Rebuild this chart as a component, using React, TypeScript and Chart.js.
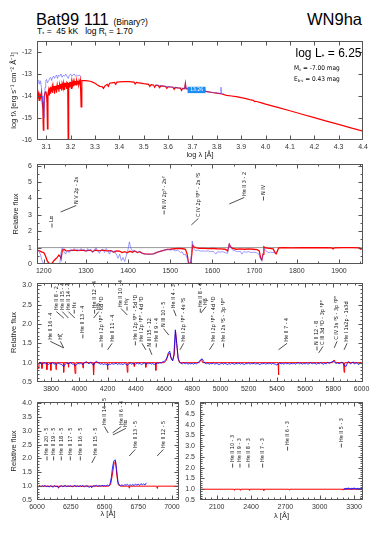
import React, { useEffect, useRef } from "react";
import { Chart, registerables } from "chart.js";

Chart.register(...registerables);

const SANS = '"Liberation Sans", Arial, Helvetica, sans-serif';
const NARROW = '"Liberation Sans Narrow", "DejaVu Sans Condensed", "Liberation Sans", sans-serif';
Chart.defaults.font.family = SANS;

// ------------------------------------------------------------------ data
// Panel 1: SED (log lambda vs log f_lambda)
const sedTicksX = [3.1, 3.2, 3.3, 3.4, 3.5, 3.6, 3.7, 3.8, 3.9, 4.0, 4.1, 4.2, 4.3, 4.4];
const sedTicksY = [-12, -13, -14, -15, -16];
const sedModel: [number, number][] = [
  [3.062, -13.95], [3.065, -14.12], [3.068, -13.9], [3.071, -14.2], [3.074, -13.95], [3.077, -14.05],
  [3.08, -13.85], [3.083, -14.25], [3.086, -14.6], [3.088, -15.55], [3.09, -14.9], [3.092, -14.0],
  [3.095, -13.85], [3.098, -13.78], [3.101, -13.95], [3.103, -14.3], [3.105, -15.5], [3.107, -13.9],
  [3.11, -13.72], [3.112, -13.95], [3.113, -13.7], [3.116, -13.64], [3.118, -13.9], [3.12, -13.6],
  [3.122, -13.8], [3.124, -13.62], [3.126, -13.85], [3.128, -13.57], [3.13, -13.75], [3.132, -13.55],
  [3.134, -13.9], [3.136, -13.55], [3.138, -13.75], [3.14, -13.52], [3.142, -13.85], [3.145, -13.5],
  [3.148, -13.7], [3.15, -13.5], [3.152, -13.8], [3.155, -13.47], [3.158, -13.65], [3.16, -13.45],
  [3.163, -13.75], [3.165, -13.45], [3.168, -13.6], [3.17, -13.42], [3.173, -13.7], [3.175, -13.4],
  [3.178, -13.58], [3.18, -13.4], [3.183, -13.65], [3.185, -13.38], [3.188, -13.42], [3.19, -16.2],
  [3.192, -13.4], [3.194, -13.6], [3.196, -13.36], [3.198, -13.55], [3.2, -13.36], [3.203, -13.65],
  [3.205, -13.34], [3.208, -13.5], [3.21, -13.33], [3.213, -13.55], [3.215, -13.33], [3.218, -13.48],
  [3.22, -13.32], [3.223, -13.5], [3.225, -13.31], [3.228, -13.45], [3.23, -13.31], [3.233, -13.5],
  [3.235, -13.3], [3.238, -13.42], [3.24, -13.3], [3.243, -14.5], [3.246, -13.3], [3.25, -13.3],
  [3.26, -13.3], [3.27, -13.31], [3.28, -13.33], [3.29, -13.37], [3.3, -13.42], [3.31, -13.5],
  [3.32, -13.56], [3.33, -13.58], [3.335, -13.65], [3.34, -13.55], [3.35, -13.47], [3.355, -13.56],
  [3.36, -13.42], [3.37, -13.4], [3.38, -13.38], [3.385, -13.47], [3.39, -13.37], [3.4, -13.36],
  [3.42, -13.35], [3.44, -13.35], [3.46, -13.37], [3.465, -13.45], [3.47, -13.38], [3.48, -13.4],
  [3.5, -13.44], [3.52, -13.47], [3.525, -13.56], [3.53, -13.48], [3.54, -13.5], [3.545, -13.6],
  [3.55, -13.51], [3.56, -13.53], [3.565, -13.62], [3.57, -13.54], [3.58, -13.55], [3.59, -13.57],
  [3.595, -13.66], [3.6, -13.58], [3.62, -13.6], [3.625, -13.7], [3.63, -13.61], [3.64, -13.63],
  [3.65, -13.64], [3.655, -13.75], [3.66, -13.65], [3.668, -13.66], [3.671, -13.42], [3.674, -13.67],
  [3.68, -13.68], [3.7, -13.71], [3.72, -13.74], [3.735, -13.78], [3.74, -13.76], [3.76, -13.8],
  [3.78, -13.84], [3.8, -13.87], [3.82, -13.91], [3.84, -13.97], [3.86, -14.0], [3.88, -14.03],
  [3.9, -14.07], [3.92, -14.12], [3.94, -14.18], [3.95, -14.2], [3.955, -14.25], [3.96, -14.24],
  [3.98, -14.3], [4.0, -14.37], [4.05, -14.52], [4.1, -14.67], [4.15, -14.83], [4.2, -14.98],
  [4.25, -15.14], [4.3, -15.29], [4.35, -15.45], [4.4, -15.6],
];
const sedObs: [number, number | null][] = [
  [3.065, -13.3], [3.068, -13.3], [3.071, -13.45], [3.074, -13.3], [3.077, -13.35], [3.08, -13.6],
  [3.083, -14.0], [3.086, -14.3], [3.088, -14.8], [3.09, -15.0], [3.092, -14.6], [3.095, -13.6],
  [3.098, -13.3], [3.101, -13.25], [3.105, -13.4], [3.11, -13.3], [3.114, -13.2], [3.118, -13.15],
  [3.122, -13.3], [3.126, -13.15], [3.13, -13.1], [3.134, -13.2], [3.138, -13.1], [3.142, -13.05],
  [3.146, -13.2], [3.15, -13.05], [3.155, -13.1], [3.16, -13.0], [3.165, -13.15], [3.17, -13.05],
  [3.175, -13.1], [3.18, -13.0], [3.185, -13.1], [3.19, -13.2], [3.195, -13.05], [3.2, -13.0],
  [3.205, -13.1], [3.21, -13.05], [3.215, -13.0], [3.22, -13.1], [3.225, -13.05], [3.23, -13.1],
  [3.235, -13.05], [3.24, -13.1], [3.245, -13.15], [3.3, null],
  [3.55, -13.5], [3.58, -13.55], [3.6, -13.57], [3.63, -13.62], [3.65, -13.64], [3.668, -13.66],
  [3.671, -13.45], [3.674, -13.67], [3.7, -13.71], [3.73, -13.75], [3.76, -13.8], [3.79, -13.85],
  [3.815, -13.88], [3.817, -13.6], [3.819, -13.88], [3.83, -13.91],
];
const sedPhotometry = [{ x0: 3.68, x1: 3.754, y0: -13.58, y1: -13.87, text: "13.26" }];

// Panel 2: UV relative flux
const uvTicksX = [1200, 1300, 1400, 1500, 1600, 1700, 1800, 1900];
const uvTicksY = [0, 1, 2, 3, 4, 5, 6];
const uvModel: [number, number][] = [
  [1184, 0.85], [1190, 0.8], [1196, 0.72], [1200, 0.7], [1204, 0.5], [1208, 0.2], [1212, 0.05],
  [1216, 0.0], [1220, 0.05], [1224, 0.2], [1228, 0.3], [1232, 0.4], [1236, 0.55], [1239, 0.45],
  [1241, 0.3], [1244, 0.85], [1248, 0.9], [1252, 0.82], [1260, 0.8], [1270, 0.85], [1280, 0.82],
  [1290, 0.85], [1300, 0.8], [1310, 0.85], [1316, 0.75], [1322, 0.85], [1330, 0.8], [1340, 0.85],
  [1350, 0.8], [1360, 0.82], [1366, 0.72], [1372, 0.8], [1380, 0.78], [1386, 0.7], [1392, 0.75],
  [1398, 0.68], [1404, 0.78], [1410, 0.72], [1416, 0.8], [1422, 0.7], [1428, 0.75], [1434, 0.65],
  [1440, 0.62], [1450, 0.6], [1460, 0.62], [1470, 0.72], [1480, 0.8], [1490, 0.88], [1500, 0.9],
  [1510, 0.93], [1520, 0.95], [1530, 0.93], [1536, 0.9], [1540, 0.6], [1543, 0.1], [1546, 0.0],
  [1549, 0.1], [1551, 0.6], [1553, 1.15], [1556, 1.05], [1562, 0.98], [1570, 0.95], [1580, 0.95],
  [1590, 0.94], [1600, 0.95], [1610, 0.93], [1620, 0.92], [1630, 0.9], [1636, 0.8], [1640, 1.2],
  [1643, 1.05], [1648, 0.95], [1656, 0.9], [1666, 0.92], [1676, 0.9], [1686, 0.92], [1696, 0.9],
  [1706, 0.88], [1711, 0.8], [1714, 0.4], [1717, 0.25], [1720, 0.6], [1722, 1.05], [1726, 0.98],
  [1735, 0.95], [1744, 0.92], [1748, 0.7], [1751, 0.62], [1754, 0.8], [1757, 0.98], [1770, 1.0],
  [1790, 0.98], [1810, 1.0], [1830, 0.99], [1850, 1.0], [1870, 0.99], [1883, 0.98], [1886, 0.92],
  [1889, 0.99], [1910, 1.0], [1930, 1.0], [1948, 0.99], [1951, 0.9], [1956, 0.95],
];
const uvObs: [number, number][] = [
  [1184, 0.85], [1188, 0.8], [1192, 0.6], [1196, 0.2], [1200, 0.0], [1210, 0.0], [1220, 0.0],
  [1230, 0.0], [1238, 0.0], [1241, 0.7], [1244, 1.0], [1248, 0.75], [1252, 0.6], [1256, 0.85],
  [1260, 0.7], [1264, 0.9], [1268, 0.8], [1272, 0.95], [1276, 0.85], [1280, 0.9], [1284, 0.8],
  [1288, 0.95], [1292, 0.85], [1296, 0.9], [1300, 0.75], [1304, 0.95], [1308, 0.8], [1312, 0.9],
  [1316, 0.7], [1320, 0.85], [1324, 1.0], [1328, 0.8], [1332, 0.65], [1336, 0.85], [1340, 0.9],
  [1344, 0.7], [1348, 0.95], [1352, 0.8], [1356, 0.6], [1360, 0.85], [1364, 0.7], [1368, 0.8],
  [1372, 0.6], [1376, 0.35], [1380, 0.6], [1384, 0.2], [1388, 0.4], [1392, 0.15], [1396, 0.55],
  [1400, 0.9], [1403, 1.35], [1406, 1.0], [1410, 0.8], [1414, 0.85], [1418, 0.75], [1422, 0.7],
  [1426, 0.8], [1430, 0.7], [1434, 0.65], [1440, 0.6], [1446, 0.6], [1452, 0.58], [1458, 0.6],
  [1464, 0.65], [1470, 0.72], [1476, 0.78], [1482, 0.82], [1488, 0.85], [1494, 0.9], [1500, 0.85],
  [1506, 0.88], [1512, 0.8], [1518, 0.85], [1524, 0.7], [1528, 0.75], [1532, 0.55], [1536, 0.6],
  [1540, 0.35], [1544, 0.1], [1547, 0.0], [1550, 0.5], [1552, 1.4], [1555, 1.0], [1560, 0.8],
  [1566, 0.85], [1572, 0.78], [1578, 0.8], [1584, 0.78], [1590, 0.8], [1596, 0.75], [1602, 0.78],
  [1608, 0.6], [1612, 0.75], [1618, 0.72], [1624, 0.75], [1630, 0.7], [1636, 0.65], [1640, 1.25],
  [1643, 1.0], [1648, 0.85], [1654, 0.8], [1660, 0.75], [1666, 0.78], [1670, 0.6], [1674, 0.75],
  [1680, 0.72], [1686, 0.75], [1692, 0.7], [1698, 0.72], [1704, 0.7], [1710, 0.6], [1714, 0.3],
  [1717, 0.2], [1720, 0.6], [1723, 0.95], [1727, 0.8], [1732, 0.7], [1738, 0.72], [1744, 0.7],
  [1750, 0.7],
];
const uvIdWave = [1216, 1240, 1486, 1550, 1640, 1718];
const uvIdText = ["Lα", "N V 2p - 2s", "N IV 2p³ - 2s²", "C IV 2p ²P° - 2s ²S", "He II 3 - 2", "N IV"];

// Panel 3: optical relative flux
const optTicksX = [3800, 4000, 4200, 4400, 4600, 4800, 5000, 5200, 5400, 5600, 5800, 6000];
const optTicksY = [0.5, 1.0, 1.5, 2.0, 2.5, 3.0];
const optModel: [number, number][] = [
  [3700, 1.0], [3710, 0.85], [3714, 1.0], [3733, 1.0], [3735, 0.85], [3737, 1.0], [3768, 1.0],
  [3770, 0.82], [3772, 1.0], [3796, 1.0], [3798, 0.8], [3800, 1.0], [3833, 1.0], [3835, 0.82],
  [3837, 1.0], [3886, 1.0], [3889, 0.75], [3892, 1.0], [3920, 1.0], [3923, 0.88], [3926, 1.0],
  [3965, 1.0], [3970, 0.72], [3975, 1.0], [4023, 1.0], [4026, 0.86], [4029, 1.0], [4097, 1.0],
  [4101, 0.68], [4105, 1.0], [4197, 1.0], [4200, 0.82], [4203, 1.0], [4336, 1.0], [4340, 0.75],
  [4344, 1.0], [4385, 1.0], [4388, 0.9], [4391, 1.0], [4468, 1.0], [4471, 0.88], [4474, 1.0],
  [4539, 1.0], [4542, 0.8], [4545, 1.0], [4600, 1.0], [4615, 1.05], [4630, 1.2], [4640, 1.25],
  [4652, 1.1], [4662, 1.05], [4672, 1.2], [4682, 1.8], [4690, 1.5], [4700, 1.1], [4710, 1.0],
  [4850, 1.0], [4858, 1.05], [4866, 1.08], [4874, 1.0], [5408, 1.0], [5411, 0.68], [5414, 1.0],
  [5795, 1.0], [5806, 1.07], [5815, 1.0], [5872, 1.0], [5876, 0.75], [5880, 1.0], [6010, 1.0],
];
const optObsStart = 3700;
const optObsStep = 10;
const optObsFlux = [
  1.0, 0.97, 1.01, 0.98, 0.96, 1.0, 0.97, 0.99, 0.95, 0.98,
  0.97, 1.0, 0.96, 0.98, 0.95, 0.99, 0.97, 0.96, 0.93, 0.9,
  0.96, 0.99, 0.97, 0.98, 1.0, 0.96, 0.97, 0.92, 0.95, 0.98,
  0.97, 0.99, 0.95, 0.98, 1.0, 1.03, 0.99, 0.97, 1.01, 0.98,
  0.93, 0.99, 1.04, 1.01, 0.98, 0.96, 0.98, 0.95, 0.97, 0.96,
  0.92, 0.97, 0.95, 0.98, 0.96, 0.97, 0.99, 0.95, 0.98, 0.96,
  0.97, 0.95, 0.98, 0.96, 0.93, 0.97, 0.99, 0.96, 0.98, 0.97,
  0.96, 0.99, 0.97, 0.98, 0.95, 0.97, 1.0, 0.96, 0.98, 0.97,
  0.99, 0.96, 0.98, 0.95, 0.97, 0.99, 0.98, 1.0, 0.99, 1.02,
  1.03, 1.06, 1.12, 1.25, 1.3, 1.12, 1.05, 1.2, 1.85, 1.5,
  1.12, 1.02, 0.98, 0.97, 1.0, 0.97, 0.99, 0.96, 0.98, 0.97,
  0.98, 0.96, 0.99, 0.97, 1.0, 1.03, 1.08, 1.1, 1.04, 0.99,
  0.97, 0.99, 0.96, 0.98, 0.97, 0.99, 0.96, 0.98, 0.97, 0.95,
  0.97, 0.99, 0.96, 0.98, 0.97, 0.95, 0.98, 0.96, 0.99, 0.97,
  0.96, 0.98, 0.97, 0.99, 0.96, 0.98, 0.97, 0.95, 0.98, 0.97,
  0.99, 0.96, 0.98, 0.97, 0.99, 0.96, 0.98, 0.97, 0.95, 0.98,
  0.97, 0.99, 0.96, 0.98, 0.97, 0.99, 0.96, 0.98, 0.97, 0.96,
  0.94, 0.97, 0.99, 0.97, 0.98, 0.96, 0.99, 0.97, 0.98, 0.96,
  0.98, 0.97, 0.99, 0.96, 0.98, 1.0, 0.97, 0.99, 0.96, 0.98,
  0.97, 0.99, 0.96, 0.98, 1.0, 0.97, 0.99, 0.98, 0.96, 0.99,
  0.97, 1.0, 0.98, 0.96, 0.99, 0.97, 1.01, 0.98, 1.0, 1.02,
  1.04, 1.01, 0.98, 1.0, 0.97, 0.99, 1.01, 0.98, 0.92, 0.9,
  1.0, 1.03, 0.97, 0.99, 1.02, 0.96, 1.0, 0.98, 0.95, 0.99,
  0.97, 1.01,
];
const optIdWave = [3888, 3889, 3890, 3923, 3968, 3970, 4026, 4100, 4101, 4144, 4200, 4340, 4341, 4388, 4471,
  4514, 4542, 4634, 4686, 4713, 4859, 4861, 4922, 5016, 5411, 5680, 5696, 5806, 5876];
const optIdText = ["He II 16 - 4", "Hζ", "He II 8 - 2", "He II 15 - 4", "He II 14 - 4", "Hε", "He II 13 - 4",
  "He II 12 - 4", "Hδ", "He I 2p ¹P° - 6d ¹D", "He II 11 - 4", "He II 10 - 4", "Hγ", "He I 2p ¹P° - 5d ¹D",
  "He I 2p ³P° - 4d ³D", "N III 15 - 12", "He II 9 - 4", "N III 10 - 5", "He II 4 - 3", "He I 2p ³P° - 4s ³S",
  "He II 8 - 4", "Hβ", "He I 2p ¹P° - 4d ¹D", "He I 2s ¹S - 3p ¹P°", "He II 7 - 4", "N II 12 - 8",
  "C III 3d ¹D - 3p ¹P°", "C IV 3s ²S - 3p ²P°", "He I 1s2p - 1s3d"];

// Panel 4: red optical
const redTicksX = [6000, 6250, 6500, 6750, 7000];
const redTicksY = [0.5, 1.0, 1.5, 2.0, 2.5, 3.0, 3.5, 4.0];
const redModel: [number, number][] = [
  [6000, 1.0], [6155, 1.0], [6158, 0.93], [6161, 1.0], [6400, 1.0], [6405, 0.94], [6408, 1.0],
  [6530, 1.0], [6545, 1.05], [6558, 1.4], [6572, 1.85], [6582, 1.9], [6592, 1.35], [6602, 1.05],
  [6620, 1.0], [6680, 1.0], [6683, 0.93], [6686, 1.0], [6887, 1.0], [6890, 0.92], [6893, 1.0], [7050, 1.0],
];
const redObsStart = 6000;
const redObsStep = 10;
const redObsFlux = [
  1.0, 0.98, 1.02, 0.97, 1.01, 0.99, 1.03, 0.98, 1.0, 0.97,
  1.01, 0.99, 0.96, 1.02, 0.98, 1.0, 0.95, 0.99, 1.02, 0.98,
  1.0, 1.03, 0.98, 1.01, 0.99, 1.02, 0.97, 1.0, 1.03, 0.99,
  1.01, 0.98, 1.02, 0.99, 1.03, 0.97, 1.0, 1.02, 0.98, 0.96,
  1.01, 0.98, 1.02, 1.0, 1.04, 0.99, 1.02, 1.0, 1.03, 1.01,
  1.02, 1.0, 1.04, 1.02, 1.06, 1.3, 1.7, 1.92, 1.95, 1.6,
  1.15, 1.04, 1.02, 1.05, 1.01, 1.06, 1.03, 1.07, 1.02, 1.05,
  1.03, 1.06, 1.02, 1.08, 1.04, 1.07, 1.03, 1.09, 1.05, 1.08,
  1.04, 1.12,
];
const redIdWave = [6074, 6120, 6172, 6234, 6310, 6406, 6527, 6560, 6563, 6683, 6890];
const redIdText = ["He II 20 - 5", "He II 19 - 5", "He II 18 - 5", "He II 17 - 5", "He II 16 - 5", "He II 15 - 5",
  "He II 14 - 5", "He II 6 - 4", "Hα", "He II 13 - 5", "He II 12 - 5"];

// Panel 5: near UV
const nuvTicksX = [2100, 2400, 2700, 3000, 3300];
const nuvTicksY = [0.5, 1.0, 1.5, 2.0, 2.5, 3.0, 3.5, 4.0, 4.5, 5.0];
const nuvModel: [number, number][] = [
  [1950, 1.0], [2250, 1.0], [2253, 0.95], [2256, 1.0], [2303, 1.0], [2306, 0.95], [2309, 1.0],
  [2383, 1.0], [2386, 0.94], [2389, 1.0], [2509, 1.0], [2512, 0.94], [2515, 1.0], [2730, 1.0],
  [2734, 0.96], [2738, 1.0], [3200, 1.0], [3203, 0.96], [3206, 1.0], [3380, 1.0],
];
const nuvObsStart = 3210;
const nuvObsStep = 10;
const nuvObsFlux = [1.03, 1.01, 1.04, 1.02, 1.05, 1.03, 1.01, 1.04, 1.02, 1.05, 1.03, 1.02, 1.04, 1.01, 1.03, 1.02, 1.04, 1.03];
const nuvIdWave = [2253, 2306, 2386, 2512, 2734, 3203];
const nuvIdText = ["He II 10 - 3", "He II 9 - 3", "He II 8 - 3", "He II 7 - 3", "He II 6 - 3", "He II 5 - 3"];

// ------------------------------------------------------------------ label layout (anchor of text, data coords)
const uvIdAnchor = [[1219.5, 2.56], [1277, 3.66], [1485.5, 3.36], [1566.7, 2.87], [1675.6, 4.15], [1721, 4.21]];
const optIdAnchor = [[3794, 1.59], [3865, 1.59], [3837, 2.36], [3879, 2.36], [3922, 2.36], [3964, 2.41],
  [4025, 1.77], [4108, 2.41], [4138, 2.36], [4161, 1.54], [4232, 1.54], [4295, 2.44], [4338, 2.49],
  [4397, 1.59], [4444, 1.54], [4496, 1.41], [4545, 1.54], [4597, 1.92], [4668, 2.41], [4739, 1.54],
  [4857, 2.44], [4898, 2.49], [4952, 1.54], [5022, 1.54], [5472, 1.54], [5684, 1.46], [5727, 1.46],
  [5826, 1.59], [5897, 1.54]];
const redIdAnchor = [[6074, 2.13], [6123, 2.13], [6180, 2.13], [6247, 2.13], [6321, 2.13], [6432, 2.13],
  [6499, 3.21], [6624, 3.21], [6658, 3.14], [6728, 2.38], [6936, 2.38]];
const nuvIdAnchor = [[2239, 2.26], [2303, 2.26], [2381, 2.26], [2501, 2.26], [2719, 3.05], [3189, 3.19]];

// ------------------------------------------------------------------ helpers
const pts = (arr: [number, number | null][]) => arr.map(([x, y]) => ({ x, y }));
const grid = (start: number, step: number, vals: number[]) => vals.map((y, i) => ({ x: start + i * step, y }));
const ids = (w: number[], t: string[], a: number[][]) => w.map((wv, i) => ({ w: wv, t: t[i], tx: a[i][0], ty: a[i][1] }));

function minorRange(min: number, max: number, step: number) {
  const out: number[] = [];
  if (!step) return out;
  const start = Math.ceil(min / step - 1e-9) * step;
  for (let v = start; v <= max + 1e-9; v += step) out.push(v);
  return out;
}

const framePlugin = {
  id: "frame",
  afterDatasetsDraw(chart: any, _a: any, o: any) {
    const { ctx, chartArea: a, scales } = chart;
    const sx = scales.x, sy = scales.y;
    ctx.save();
    ctx.strokeStyle = "#555";
    ctx.lineWidth = 1;
    const L = Math.round(a.left) + 0.5, R = Math.round(a.right) - 0.5;
    const T = Math.round(a.top) + 0.5, B = Math.round(a.bottom) - 0.5;
    ctx.strokeRect(L, T, R - L, B - T);
    ctx.beginPath();
    const xt = (vals: number[], len: number) => vals.forEach((v) => {
      const p = Math.round(sx.getPixelForValue(v)) + 0.5;
      if (p < L + 1 || p > R - 1) return;
      ctx.moveTo(p, B); ctx.lineTo(p, B - len);
      ctx.moveTo(p, T); ctx.lineTo(p, T + len);
    });
    const yt = (vals: number[], len: number) => vals.forEach((v) => {
      const p = Math.round(sy.getPixelForValue(v)) + 0.5;
      if (p < T + 1 || p > B - 1) return;
      ctx.moveTo(L, p); ctx.lineTo(L + len, p);
      ctx.moveTo(R, p); ctx.lineTo(R - len, p);
    });
    xt(o.xMajor, 4);
    yt(o.yMajor, 4);
    xt(minorRange(sx.min, sx.max, o.xMinor), 2);
    yt(minorRange(sy.min, sy.max, o.yMinor), 2);
    ctx.stroke();
    ctx.restore();
  },
};

const idPlugin = {
  id: "lineIds",
  afterDatasetsDraw(chart: any, _a: any, o: any) {
    const { ctx, scales } = chart;
    ctx.save();
    if (o.boxes) {
      for (const b of o.boxes) {
        const x0 = scales.x.getPixelForValue(b.x0), x1 = scales.x.getPixelForValue(b.x1);
        const y0 = scales.y.getPixelForValue(b.y0), y1 = scales.y.getPixelForValue(b.y1);
        ctx.fillStyle = "#1b8cf2";
        ctx.fillRect(x0, y0, x1 - x0, y1 - y0);
        ctx.fillStyle = "#ffffff";
        ctx.font = `5px ${NARROW}`;
        ctx.textAlign = "center";
        ctx.textBaseline = "middle";
        ctx.fillText(b.text, (x0 + x1) / 2, (y0 + y1) / 2);
      }
    }
    if (o.items) {
      ctx.fillStyle = "#111";
      ctx.strokeStyle = "#222";
      ctx.lineWidth = 0.8;
      ctx.font = `5.5px ${NARROW}`;
      ctx.textBaseline = "middle";
      ctx.textAlign = "left";
      for (const it of o.items) {
        const xw = scales.x.getPixelForValue(it.w);
        const xt = scales.x.getPixelForValue(it.tx);
        const yt = scales.y.getPixelForValue(it.ty);
        ctx.beginPath();
        if (Math.abs(xw - xt) < 2.5) {
          ctx.moveTo(xt, yt + 1.5); ctx.lineTo(xt, yt + 5.5);
        } else {
          ctx.moveTo(xw, yt + 8); ctx.lineTo(xt, yt + 1.5);
        }
        ctx.stroke();
        ctx.save();
        ctx.translate(xt, yt);
        ctx.rotate(-Math.PI / 2);
        ctx.fillText(it.t, 0, 0);
        ctx.restore();
      }
    }
    ctx.restore();
  },
};

type Spec = {
  box: { x: number; y: number; w: number; h: number };
  plot: { left: number; top: number; right: number; bottom: number };
  xMin: number; xMax: number; yMin: number; yMax: number;
  xTicks: number[]; yTicks: number[];
  xFmt: (v: number) => string; yFmt: (v: number) => string;
  xMinor: number; yMinor: number;
  xTitle?: string; xTitlePad?: number;
  yTitle?: string; yTitlePad?: number;
  datasets: any[];
  items?: any[];
  boxes?: any[];
};

function buildConfig(s: Spec): any {
  const padTop = s.plot.top - s.box.y;
  const padRight = s.box.x + s.box.w - s.plot.right;
  const yW = s.plot.left - s.box.x;
  const xH = s.box.y + s.box.h - s.plot.bottom;
  return {
    type: "line",
    data: { datasets: s.datasets },
    options: {
      animation: false,
      responsive: false,
      devicePixelRatio: 1,
      events: [],
      layout: { padding: { top: padTop, right: padRight, left: 0, bottom: 0 } },
      elements: { point: { radius: 0 }, line: { tension: 0 } },
      scales: {
        x: {
          type: "linear", min: s.xMin, max: s.xMax,
          grid: { display: false, drawTicks: false },
          border: { display: false },
          ticks: {
            font: { size: 7 }, color: "#333", padding: 3, maxRotation: 0, minRotation: 0, autoSkip: false,
            callback: (v: number) => s.xFmt(v),
          },
          afterBuildTicks: (sc: any) => { sc.ticks = s.xTicks.map((v) => ({ value: v })); },
          afterFit: (sc: any) => { sc.height = xH; sc.paddingLeft = 0; sc.paddingRight = 0; },
          title: {
            display: !!s.xTitle, text: s.xTitle || "", font: { size: 7.5 }, color: "#222",
            padding: { top: 0, bottom: s.xTitlePad || 0 },
          },
        },
        y: {
          type: "linear", min: s.yMin, max: s.yMax,
          grid: { display: false, drawTicks: false },
          border: { display: false },
          ticks: {
            font: { size: 7 }, color: "#333", padding: 5, autoSkip: false,
            callback: (v: number) => s.yFmt(v),
          },
          afterBuildTicks: (sc: any) => { sc.ticks = s.yTicks.map((v) => ({ value: v })); },
          afterFit: (sc: any) => { sc.width = yW; sc.paddingTop = 0; sc.paddingBottom = 0; },
          title: {
            display: !!s.yTitle, text: s.yTitle || "", font: { size: 7.5 }, color: "#222",
            padding: { top: s.yTitlePad || 0, bottom: 0 },
          },
        },
      },
      plugins: {
        legend: { display: false },
        tooltip: { enabled: false },
        frame: { xMajor: s.xTicks, yMajor: s.yTicks, xMinor: s.xMinor, yMinor: s.yMinor },
        lineIds: { items: s.items, boxes: s.boxes },
      },
    },
    plugins: [framePlugin, idPlugin],
  };
}

const RED = "#ff0000";
const line = (data: any[], color: string, width: number, order: number) => ({
  data, borderColor: color, borderWidth: width, pointRadius: 0, fill: false, order, spanGaps: false,
});

const specs: Spec[] = [
  {
    box: { x: 0, y: 36, w: 382, h: 126 },
    plot: { left: 37, top: 41, right: 363, bottom: 140 },
    xMin: 3.062, xMax: 4.4, yMin: -16, yMax: -11.5,
    xTicks: sedTicksX, yTicks: sedTicksY,
    xFmt: (v) => v.toFixed(1), yFmt: (v) => String(Math.round(v)),
    xMinor: 0, yMinor: 0,
    xTitle: "log λ [Å]", xTitlePad: 2.5,
    yTitle: "log fλ [erg s⁻¹ cm⁻² Å⁻¹]", yTitlePad: 9,
    datasets: [
      line(pts(sedObs), "rgba(70,70,255,0.55)", 1, 0),
      line(pts(sedModel), RED, 1.2, 1),
    ],
    boxes: sedPhotometry,
  },
  {
    box: { x: 0, y: 160, w: 382, h: 116 },
    plot: { left: 37, top: 164, right: 363, bottom: 264 },
    xMin: 1184, xMax: 1957, yMin: 0, yMax: 6.1,
    xTicks: uvTicksX, yTicks: uvTicksY,
    xFmt: (v) => String(v), yFmt: (v) => String(v),
    xMinor: 50, yMinor: 0.5,
    yTitle: "Relative flux", yTitlePad: 11,
    datasets: [
      line(pts(uvObs), "rgba(90,90,255,0.6)", 1, 0),
      line(pts(uvModel), RED, 1.3, 1),
      line([{ x: 1184, y: 1 }, { x: 1957, y: 1 }], "#999999", 1, 2),
    ],
    items: ids(uvIdWave, uvIdText, uvIdAnchor),
  },
  {
    box: { x: 0, y: 279, w: 382, h: 116 },
    plot: { left: 37, top: 283, right: 363, bottom: 382 },
    xMin: 3700, xMax: 6010, yMin: 0.5, yMax: 3.06,
    xTicks: optTicksX, yTicks: optTicksY,
    xFmt: (v) => String(v), yFmt: (v) => v.toFixed(1),
    xMinor: 50, yMinor: 0.1,
    yTitle: "Relative flux", yTitlePad: 9,
    datasets: [
      line(grid(optObsStart, optObsStep, optObsFlux), "rgba(0,0,255,0.8)", 1, 0),
      line(pts(optModel), RED, 1, 1),
    ],
    items: ids(optIdWave, optIdText, optIdAnchor),
  },
  {
    box: { x: 0, y: 398, w: 190, h: 122 },
    plot: { left: 37, top: 402, right: 179, bottom: 500 },
    xMin: 6000, xMax: 7052, yMin: 0.5, yMax: 4.04,
    xTicks: redTicksX, yTicks: redTicksY,
    xFmt: (v) => String(v), yFmt: (v) => v.toFixed(1),
    xMinor: 50, yMinor: 0.1,
    xTitle: "λ [Å]", xTitlePad: 1.5,
    yTitle: "Relative flux", yTitlePad: 9,
    datasets: [
      line(grid(redObsStart, redObsStep, redObsFlux), "rgba(0,0,255,0.8)", 1, 0),
      line(pts(redModel), RED, 1, 1),
    ],
    items: ids(redIdWave, redIdText, redIdAnchor),
  },
  {
    box: { x: 180, y: 398, w: 202, h: 124 },
    plot: { left: 200, top: 402, right: 363, bottom: 500 },
    xMin: 1954, xMax: 3378, yMin: 0.5, yMax: 5.05,
    xTicks: nuvTicksX, yTicks: nuvTicksY,
    xFmt: (v) => String(v), yFmt: (v) => v.toFixed(1),
    xMinor: 50, yMinor: 0.1,
    xTitle: "λ [Å]", xTitlePad: 1.5,
    datasets: [
      line(grid(nuvObsStart, nuvObsStep, nuvObsFlux), "rgba(0,0,255,0.8)", 1.2, 0),
      line(pts(nuvModel), RED, 1, 1),
    ],
    items: ids(nuvIdWave, nuvIdText, nuvIdAnchor),
  },
];

function Panel({ spec }: { spec: Spec }) {
  const ref = useRef<HTMLCanvasElement>(null);
  useEffect(() => {
    const chart = new Chart(ref.current as HTMLCanvasElement, buildConfig(spec));
    return () => chart.destroy();
  }, [spec]);
  const b = spec.box;
  return (
    <canvas
      ref={ref}
      width={b.w}
      height={b.h}
      style={{ position: "absolute", left: b.x, top: b.y, width: b.w, height: b.h }}
    />
  );
}

const subStyle: React.CSSProperties = { fontSize: "0.62em", position: "relative", top: "0.3em", verticalAlign: "baseline", lineHeight: 0 };

export default function App() {
  return (
    <div style={{ position: "absolute", left: 0, top: 0, width: 382, height: 541, background: "#fff", overflow: "hidden", fontFamily: SANS, color: "#000" }}>
      {specs.map((s, i) => <Panel key={i} spec={s} />)}
      <div style={{ position: "absolute", left: 36, top: 11, fontSize: 16.5, lineHeight: 1, whiteSpace: "pre" }}>
        Bat99 111 <span style={{ fontSize: 8.5 }}>(Binary?)</span>
      </div>
      <div style={{ position: "absolute", right: 20, top: 11, fontSize: 16.5, lineHeight: 1, whiteSpace: "pre" }}>WN9ha</div>
      <div style={{ position: "absolute", left: 37, top: 27, fontSize: 8.5, lineHeight: 1, whiteSpace: "pre" }}>
        T<span style={subStyle}>*</span> =  45 kK   log R<span style={subStyle}>t</span> = 1.70
      </div>
      <div style={{ position: "absolute", right: 20.5, top: 47, fontSize: 12, lineHeight: 1, whiteSpace: "pre" }}>
        log L<span style={subStyle}>*</span> = 6.25
      </div>
      <div style={{ position: "absolute", left: 294, top: 64.5, fontSize: 6.5, lineHeight: 1, whiteSpace: "pre", fontFamily: NARROW }}>
        M<span style={subStyle}>v</span> = -7.00 mag
      </div>
      <div style={{ position: "absolute", left: 294, top: 75.5, fontSize: 6.5, lineHeight: 1, whiteSpace: "pre", fontFamily: NARROW }}>
        E<span style={subStyle}>b-v</span> = 0.43 mag
      </div>
    </div>
  );
}
